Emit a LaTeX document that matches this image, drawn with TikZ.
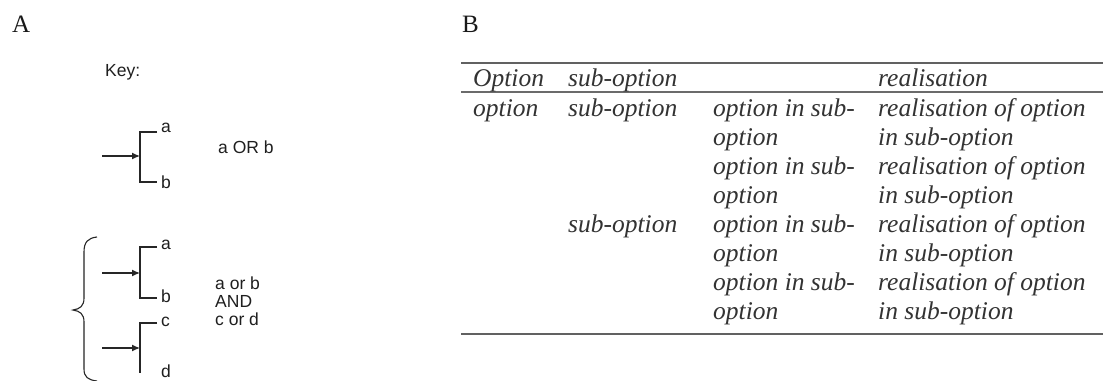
\documentclass[tikz,border=0pt]{standalone}
\usepackage{fontspec}
\setmainfont{Liberation Serif}
\newfontfamily\keyfont{Liberation Sans}
\usetikzlibrary{arrows.meta}
\tikzset{
  panellab/.style={font=\fontsize{25}{30}\selectfont, inner sep=0pt, anchor=base west, text=black!90},
  keytxt/.style={font=\keyfont\fontsize{17.5}{20}\selectfont, text=black!88, inner sep=0pt},
  keyletter/.style={keytxt, anchor=west, inner xsep=4pt, inner ysep=0pt},
  keyline/.style={draw=black!85, line width=1.2pt},
  keyarr/.style={keyline, -{Latex[length=8pt,width=7pt]}},
  cell/.style={font=\fontsize{25.5}{29}\selectfont\itshape, text=black!80, inner sep=0pt, anchor=base west},
  rulethick/.style={draw=black!62, line width=2pt},
  rulethin/.style={draw=black!58, line width=1.4pt}
}
\begin{document}
\begin{tikzpicture}[x=1pt,y=-1pt]
\useasboundingbox[fill=white] (0,0) rectangle (1105,380);

% ---------- panel labels
\node[panellab] (labA) at (12,32) {A};
\node[panellab] (labB) at (462,32) {B};

% ---------- Key
\node[keytxt, anchor=base west] (key) at (105,76) {Key:};

% group 1 : a OR b
\node[keyletter] (g1a) at (157,128) {a};
\node[keyletter] (g1b) at (157,182) {b};
\coordinate (g1t) at (140,132);
\coordinate (g1d) at (140,182);
\coordinate (g1s) at (102,156);
\coordinate (g1j) at (140,156);
\draw[keyline] (g1t -| g1a.west) -- (g1t) -- (g1d) -- (g1d -| g1b.west);
\draw[keyarr] (g1s) -- (g1j);
\node[keytxt, anchor=base west] (orlab) at (218,153) {a OR b};

% group 2 : a or b
\node[keyletter] (g2a) at (157,245) {a};
\node[keyletter] (g2b) at (157,296) {b};
\coordinate (g2t) at (140,247);
\coordinate (g2d) at (140,298);
\coordinate (g2s) at (102,273);
\coordinate (g2j) at (140,273);
\draw[keyline] (g2t -| g2a.west) -- (g2t) -- (g2d) -- (g2d -| g2b.west);
\draw[keyarr] (g2s) -- (g2j);

% group 3 : c or d
\node[keyletter] (g3c) at (157,322) {c};
\node[keyletter] (g3d) at (157,371) {d};
\coordinate (g3t) at (140,323);
\coordinate (g3d) at (140,373);
\coordinate (g3s) at (102,348);
\coordinate (g3j) at (140,348);
\draw[keyline] (g3t -| g3c.west) -- (g3t) -- (g3d) -- (g3d -| g3d.west);
\draw[keyarr] (g3s) -- (g3j);

% brace
\draw[keyline, line width=1.1pt] (97,237) .. controls (88,238) and (84,242) .. (84,252)
  -- (84,298) .. controls (84,306) and (80,309) .. (73,310)
  .. controls (80,311) and (84,314) .. (84,322)
  -- (84,369) .. controls (84,377) and (88,380) .. (97,381);

\node[keytxt, anchor=base west] (andl1) at (215,289) {a or b};
\node[keytxt, anchor=base west] (andl2) at (215,307) {AND};
\node[keytxt, anchor=base west] (andl3) at (215,325) {c or d};

% ---------- Table B
\draw[rulethick] (461,63) -- (1103,63);
\draw[rulethin]  (461,92) -- (1103,92);
\draw[rulethick] (461,334) -- (1103,334);

% header
\node[cell] (h1) at (473,86) {Option};
\node[cell] (h2) at (568,86) {sub-option};
\node[cell] (h4) at (878,86) {realisation};

% body
\node[cell] (r1c1) at (473,116) {option};
\node[cell] (r1c2) at (568,116) {sub-option};
\node[cell] (r1c3) at (713,116) {option in sub-};
\node[cell] (r1c4) at (878,116) {realisation of option};
\node[cell] (r2c3) at (713,145) {option};
\node[cell] (r2c4) at (878,145) {in sub-option};
\node[cell] (r3c3) at (713,174) {option in sub-};
\node[cell] (r3c4) at (878,174) {realisation of option};
\node[cell] (r4c3) at (713,203) {option};
\node[cell] (r4c4) at (878,203) {in sub-option};
\node[cell] (r5c2) at (568,232) {sub-option};
\node[cell] (r5c3) at (713,232) {option in sub-};
\node[cell] (r5c4) at (878,232) {realisation of option};
\node[cell] (r6c3) at (713,261) {option};
\node[cell] (r6c4) at (878,261) {in sub-option};
\node[cell] (r7c3) at (713,290) {option in sub-};
\node[cell] (r7c4) at (878,290) {realisation of option};
\node[cell] (r8c3) at (713,319) {option};
\node[cell] (r8c4) at (878,319) {in sub-option};
\end{tikzpicture}
\end{document}
